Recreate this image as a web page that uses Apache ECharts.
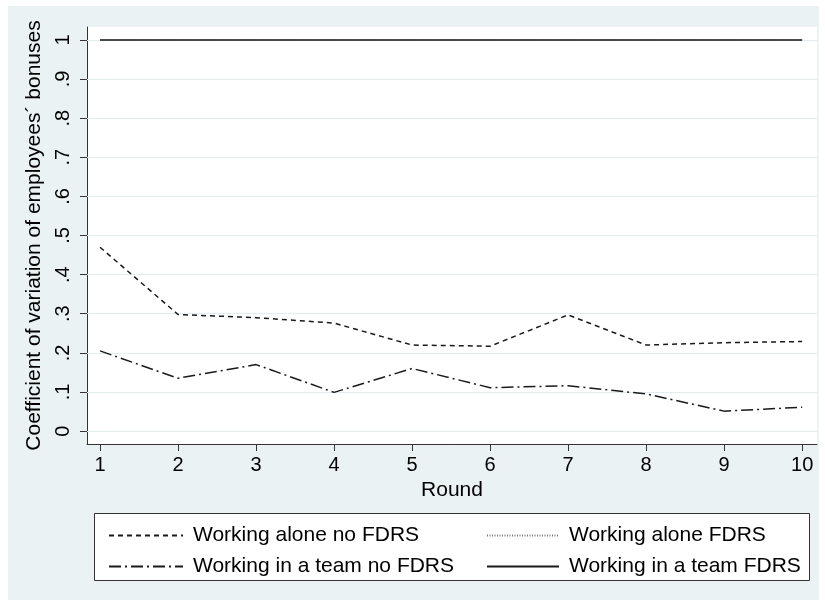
<!DOCTYPE html>
<html>
<head>
<meta charset="utf-8">
<script src="https://cdn.jsdelivr.net/npm/echarts@6/dist/echarts.min.js"></script>
<style>
html,body{margin:0;padding:0;background:#fff;}
#chart{width:825px;height:607px;}
</style>
</head>
<body>
<div id="chart"></div>
<script>
const rounds = [1, 2, 3, 4, 5, 6, 7, 8, 9, 10];
const aloneNoFDRS = [0.470, 0.298, 0.290, 0.276, 0.220, 0.217, 0.297, 0.220, 0.226, 0.229];
const aloneFDRS   = [1, 1, 1, 1, 1, 1, 1, 1, 1, 1];
const teamNoFDRS  = [0.205, 0.135, 0.170, 0.099, 0.160, 0.111, 0.116, 0.095, 0.051, 0.061];
const teamFDRS    = [1, 1, 1, 1, 1, 1, 1, 1, 1, 1];
const yTicks = [0, 0.1, 0.2, 0.3, 0.4, 0.5, 0.6, 0.7, 0.8, 0.9, 1];
const xTicks = [1, 2, 3, 4, 5, 6, 7, 8, 9, 10];
const seriesNames = ['Working alone no FDRS', 'Working alone FDRS', 'Working in a team no FDRS', 'Working in a team FDRS'];

const pairs = arr => rounds.map((r, i) => [r, arr[i]]);
const fmtY = v => {
  if (Math.abs(v) < 1e-9) return '0';
  if (Math.abs(v - 1) < 1e-9) return '1';
  return '.' + Math.round(v * 10);
};
const FONT = 'Liberation Sans, Arial, Helvetica, sans-serif';
const ink = '#1a1a1a';

const chart = echarts.init(document.getElementById('chart'), null, {renderer: 'canvas'});
chart.setOption({
  backgroundColor: '#ffffff',
  animation: false,
  textStyle: {fontFamily: FONT, color: '#000'},
  graphic: [
    {type: 'rect', z: -10, silent: true, shape: {x: 8, y: 6, width: 811, height: 594}, style: {fill: '#eaf2f3'}},
    {type: 'rect', z: 1, silent: true, shape: {x: 94.5, y: 513.5, width: 715, height: 67}, style: {fill: '#ffffff', stroke: '#333', lineWidth: 1}}
  ],
  grid: {left: 87, right: 8, top: 27, bottom: 163, show: true, backgroundColor: '#ffffff', borderWidth: 0, z: 0},
  xAxis: {
    type: 'value', min: 0.833, max: 10.19,
    name: 'Round', nameLocation: 'middle', nameGap: 36,
    nameTextStyle: {fontSize: 21, color: '#000', fontFamily: FONT},
    axisLine: {show: true, onZero: false, lineStyle: {color: '#333', width: 1}},
    axisTick: {show: true, length: 7, customValues: xTicks, lineStyle: {color: '#333'}},
    axisLabel: {customValues: xTicks, fontSize: 20, color: '#000', margin: 11, fontFamily: FONT},
    splitLine: {show: false}
  },
  yAxis: {
    type: 'value', min: -0.033, max: 1.033,
    name: 'Coefficient of variation of employees\u00b4 bonuses', nameLocation: 'middle', nameGap: 32, nameRotate: 90,
    nameTextStyle: {fontSize: 21, color: '#000', fontFamily: FONT},
    axisLine: {show: true, onZero: false, lineStyle: {color: '#333', width: 1}},
    axisTick: {show: true, length: 7, customValues: yTicks, lineStyle: {color: '#333'}},
    axisLabel: {customValues: yTicks, rotate: 90, fontSize: 20, color: '#000', margin: 14, formatter: fmtY, fontFamily: FONT},
    splitLine: {show: false}
  },
  legend: [
    {
      data: [seriesNames[0], seriesNames[2]], orient: 'vertical', left: 103, top: 520,
      itemWidth: 74, itemHeight: 20, itemGap: 10, z: 5,
      itemStyle: {color: 'transparent', borderWidth: 0, opacity: 0},
      textStyle: {fontSize: 21, color: '#000', fontFamily: FONT, padding: [0, 0, 0, 5]}
    },
    {
      data: [seriesNames[1], seriesNames[3]], orient: 'vertical', left: 481, top: 520,
      itemWidth: 72, itemHeight: 20, itemGap: 10, z: 5,
      itemStyle: {color: 'transparent', borderWidth: 0, opacity: 0},
      textStyle: {fontSize: 21, color: '#000', fontFamily: FONT, padding: [0, 0, 0, 5]}
    }
  ],
  series: [
    {
      name: seriesNames[0], type: 'line', data: pairs(aloneNoFDRS), symbol: 'none', z: 3,
      lineStyle: {color: ink, width: 1.5, type: [5, 4]}, itemStyle: {color: ink},
      markLine: {
        silent: true, symbol: 'none', label: {show: false}, z: 1,
        lineStyle: {color: '#e3ecef', width: 1, type: 'solid'},
        data: yTicks.map(v => ({yAxis: v}))
      }
    },
    {
      name: seriesNames[1], type: 'line', data: pairs(aloneFDRS), symbol: 'none', z: 3,
      lineStyle: {color: '#777', width: 1, type: [1, 1.5]}, itemStyle: {color: '#777'}
    },
    {
      name: seriesNames[2], type: 'line', data: pairs(teamNoFDRS), symbol: 'none', z: 3,
      lineStyle: {color: ink, width: 1.5, type: [12, 4, 2, 4]}, itemStyle: {color: ink}
    },
    {
      name: seriesNames[3], type: 'line', data: pairs(teamFDRS), symbol: 'none', z: 4,
      lineStyle: {color: ink, width: 1.5, type: 'solid'}, itemStyle: {color: ink}
    }
  ]
});
</script>
</body>
</html>
